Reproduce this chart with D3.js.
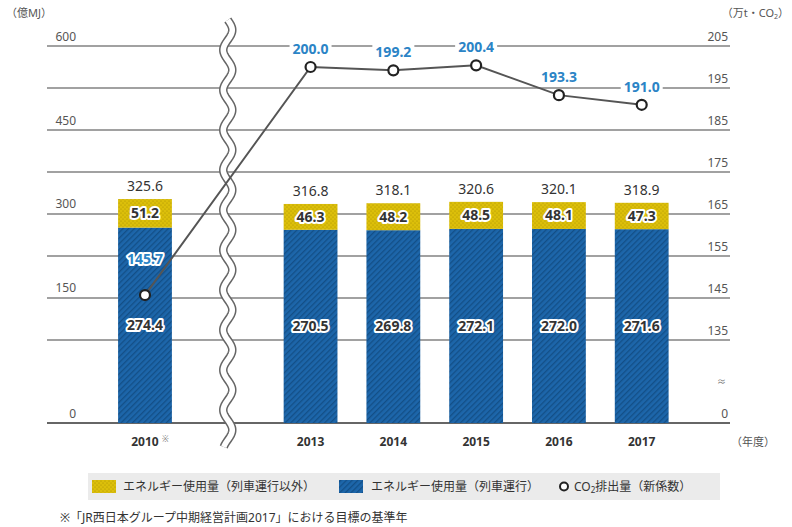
<!DOCTYPE html>
<html>
<head>
<meta charset="utf-8">
<script src="https://cdn.jsdelivr.net/npm/d3@7"></script>
<style>
  body { margin: 0; background: #fff; }
  svg text { font-family: "Noto Sans", "Noto Sans CJK JP", sans-serif; }
</style>
</head>
<body>
<svg id="chart" width="792" height="527"></svg>
<script>
// data
const years = ["2010", "2013", "2014", "2015", "2016", "2017"];
const trainEnergy = [274.4, 270.5, 269.8, 272.1, 272.0, 271.6];   // 列車運行
const otherEnergy = [51.2, 46.3, 48.2, 48.5, 48.1, 47.3];         // 列車運行以外
const totalEnergy = [325.6, 316.8, 318.1, 320.6, 320.1, 318.9];
const co2 = [145.7, 200.0, 199.2, 200.4, 193.3, 191.0];
const leftTicks = [0, 150, 300, 450, 600];
const rightTicks = [135, 145, 155, 165, 175, 185, 195, 205];
const legendLabels = ["エネルギー使用量（列車運行以外）", "エネルギー使用量（列車運行）", "CO₂排出量（新係数）"];

const data = years.map((y, i) => ({
    year: y, train: trainEnergy[i], other: otherEnergy[i], total: totalEnergy[i], co2: co2[i]
}));

const svg = d3.select("#chart");
const left = 47, right = 730;

// x: a gap slot after 2010 for the axis break
const x = d3.scaleBand()
    .domain(["2010", "gap", ...years.slice(1)])
    .range([103.6, 683.1])
    .paddingInner(0.35)
    .paddingOuter(0.175);
const cx = d => x(d) + x.bandwidth() / 2;

// left axis is broken below 150
const yL = d3.scaleLinear().domain([0, 150, 600]).range([423, 297, 46]);
// right axis, 0 sits under a break
const yR = d3.scaleLinear().domain([125, 205]).range([382, 46]);

// patterns
const defs = svg.append("defs");
const dots = defs.append("pattern").attr("id", "dots")
    .attr("width", 4).attr("height", 4).attr("patternUnits", "userSpaceOnUse");
dots.append("rect").attr("width", 4).attr("height", 4).attr("fill", "#dcbf0a");
dots.append("circle").attr("cx", 1).attr("cy", 1).attr("r", 0.6).attr("fill", "#a88f00");
dots.append("circle").attr("cx", 3).attr("cy", 3).attr("r", 0.6).attr("fill", "#a88f00");

const stripes = defs.append("pattern").attr("id", "stripes")
    .attr("width", 4).attr("height", 4).attr("patternUnits", "userSpaceOnUse")
    .attr("patternTransform", "rotate(-45)");
stripes.append("rect").attr("width", 4).attr("height", 4).attr("fill", "#1d66aa");
stripes.append("rect").attr("width", 4).attr("height", 1.3).attr("fill", "#134f87");

// gridlines
svg.append("g").selectAll("line")
    .data(rightTicks)
    .join("line")
    .attr("x1", left).attr("x2", right)
    .attr("y1", d => yR(d)).attr("y2", d => yR(d))
    .attr("stroke", "#444").attr("stroke-width", 1.2);
svg.append("line")
    .attr("x1", left).attr("x2", right)
    .attr("y1", yL(0)).attr("y2", yL(0))
    .attr("stroke", "#333").attr("stroke-width", 1.4);

// left tick labels
svg.append("g").selectAll("text")
    .data(leftTicks)
    .join("text")
    .attr("x", 76).attr("y", d => yL(d) - 5)
    .attr("text-anchor", "end")
    .attr("font-size", 12).attr("fill", "#555")
    .text(d => d);

// right tick labels
svg.append("g").selectAll("text")
    .data(rightTicks)
    .join("text")
    .attr("x", 728).attr("y", d => yR(d) - 5)
    .attr("text-anchor", "end")
    .attr("font-size", 12).attr("fill", "#555")
    .text(d => d);
svg.append("text").attr("x", 728).attr("y", yL(0) - 5)
    .attr("text-anchor", "end").attr("font-size", 12).attr("fill", "#555").text("0");
svg.append("text").attr("x", 726).attr("y", yR(125) + 3)
    .attr("text-anchor", "end").attr("font-size", 9).attr("fill", "#777").text("≈");

// axis titles
svg.append("text").attr("x", 6).attr("y", 17).attr("font-size", 11).attr("fill", "#555").text("（億MJ）");
const rt = svg.append("text").attr("x", 789).attr("y", 17).attr("text-anchor", "end")
    .attr("font-size", 11).attr("fill", "#555");
rt.append("tspan").text("（万t・CO");
rt.append("tspan").attr("font-size", 7).attr("dy", 2).text("2");
rt.append("tspan").attr("dy", -2).text("）");
svg.append("text").attr("x", 731).attr("y", 446).attr("font-size", 11).attr("fill", "#555").text("（年度）");

// bars
const bars = svg.append("g");
bars.selectAll(".train")
    .data(data)
    .join("rect")
    .attr("class", "train")
    .attr("x", d => x(d.year)).attr("width", x.bandwidth())
    .attr("y", d => yL(d.train)).attr("height", d => yL(0) - yL(d.train))
    .attr("fill", "url(#stripes)");
bars.selectAll(".other")
    .data(data)
    .join("rect")
    .attr("class", "other")
    .attr("x", d => x(d.year)).attr("width", x.bandwidth())
    .attr("y", d => yL(d.total)).attr("height", d => yL(d.train) - yL(d.total))
    .attr("fill", "url(#dots)");

// year labels
const xl = svg.append("g").selectAll("text")
    .data(data)
    .join("text")
    .attr("x", d => cx(d.year)).attr("y", 446)
    .attr("text-anchor", "middle")
    .attr("font-size", 12).attr("font-weight", "bold").attr("fill", "#333")
    .text(d => d.year);
svg.append("text").attr("x", cx("2010") + 17).attr("y", 442)
    .attr("font-size", 8).attr("fill", "#777").text("※");

// axis break wave
const wave = d3.range(20, 448, 1).map(yy => [cx("gap") + 4.5 * Math.sin((yy - 20) / 40 * 2 * Math.PI), yy]);
const waveLine = d3.line();
svg.append("path").attr("d", waveLine(wave)).attr("fill", "none")
    .attr("stroke", "#666").attr("stroke-width", 8.5);
svg.append("path").attr("d", waveLine(wave)).attr("fill", "none")
    .attr("stroke", "#fff").attr("stroke-width", 5.5);

// total labels with white box
const totals = svg.append("g").selectAll("g")
    .data(data)
    .join("g")
    .attr("transform", d => `translate(${cx(d.year)},${yL(d.total) - 13})`);
totals.append("rect").attr("x", -22).attr("y", -9).attr("width", 44).attr("height", 18).attr("fill", "#fff");
totals.append("text").attr("text-anchor", "middle").attr("dy", "0.35em")
    .attr("font-size", 14).attr("fill", "#333")
    .text(d => d.total.toFixed(1));

// value labels in bars
function halo(sel) {
    sel.attr("stroke", "#fff").attr("stroke-width", 4).attr("stroke-linejoin", "round")
        .attr("paint-order", "stroke");
}
svg.append("g").selectAll("text")
    .data(data)
    .join("text")
    .attr("x", d => cx(d.year)).attr("y", d => (yL(d.train) + yL(d.total)) / 2)
    .attr("dy", "0.35em").attr("text-anchor", "middle")
    .attr("font-size", 14).attr("font-weight", "bold").attr("fill", "#333")
    .text(d => d.other.toFixed(1))
    .call(halo);
svg.append("g").selectAll("text")
    .data(data)
    .join("text")
    .attr("x", d => cx(d.year)).attr("y", d => (yL(d.train) + yL(0)) / 2)
    .attr("dy", "0.35em").attr("text-anchor", "middle")
    .attr("font-size", 14).attr("font-weight", "bold").attr("fill", "#333")
    .text(d => d.train.toFixed(1))
    .call(halo);

// CO2 line
const line = d3.line().x(d => cx(d.year)).y(d => yR(d.co2));
svg.append("path").datum(data).attr("d", line)
    .attr("fill", "none").attr("stroke", "#555").attr("stroke-width", 2);
svg.append("g").selectAll("circle")
    .data(data)
    .join("circle")
    .attr("cx", d => cx(d.year)).attr("cy", d => yR(d.co2)).attr("r", 5)
    .attr("fill", "#fff").attr("stroke", "#222").attr("stroke-width", 2.2);

// CO2 labels
const co2Lab = svg.append("g").selectAll("g")
    .data(data)
    .join("g")
    .attr("transform", (d, i) => `translate(${cx(d.year)},${yR(d.co2) - (i === 0 ? 36 : 18)})`);
co2Lab.filter((d, i) => i > 0).append("rect")
    .attr("x", -21).attr("y", -8).attr("width", 42).attr("height", 16).attr("fill", "#fff");
co2Lab.append("text").attr("text-anchor", "middle").attr("dy", "0.35em")
    .attr("font-size", 14).attr("font-weight", "bold").attr("fill", "#2b84c6")
    .text(d => d.co2.toFixed(1))
    .call(halo);

// legend
const lg = svg.append("g");
lg.append("rect").attr("x", 88).attr("y", 473).attr("width", 632).attr("height", 27).attr("fill", "#ebebeb");
lg.append("rect").attr("x", 92).attr("y", 480).attr("width", 24).attr("height", 13).attr("fill", "url(#dots)");
lg.append("text").attr("x", 123).attr("y", 491).attr("font-size", 12).attr("fill", "#333").text(legendLabels[0]);
lg.append("rect").attr("x", 339).attr("y", 480).attr("width", 24).attr("height", 13).attr("fill", "url(#stripes)");
lg.append("text").attr("x", 371).attr("y", 491).attr("font-size", 12).attr("fill", "#333").text(legendLabels[1]);
lg.append("circle").attr("cx", 564).attr("cy", 486.5).attr("r", 4)
    .attr("fill", "#fff").attr("stroke", "#222").attr("stroke-width", 2);
const lt = lg.append("text").attr("x", 574).attr("y", 491).attr("font-size", 12).attr("fill", "#333");
lt.append("tspan").text("CO");
lt.append("tspan").attr("font-size", 8).attr("dy", 2).text("2");
lt.append("tspan").attr("dy", -2).text("排出量（新係数）");

// footnote
svg.append("text").attr("x", 60).attr("y", 522).attr("font-size", 12).attr("fill", "#333")
    .text("※「JR西日本グループ中期経営計画2017」における目標の基準年");
</script>
</body>
</html>
